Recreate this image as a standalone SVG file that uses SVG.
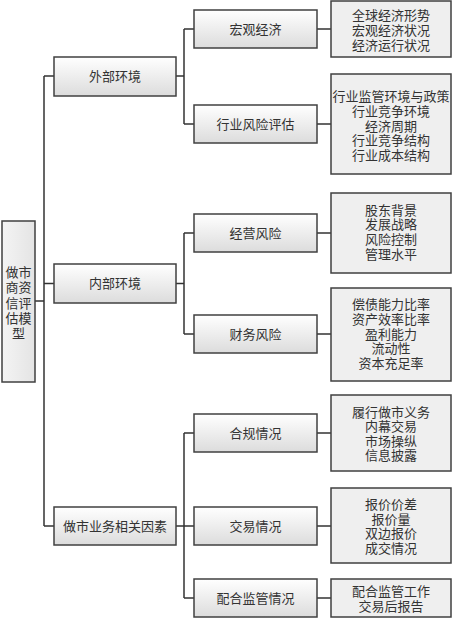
<svg xmlns="http://www.w3.org/2000/svg" width="453" height="618" viewBox="0 0 453 618">
<defs>
<linearGradient id="g" x1="0" y1="0" x2="0" y2="1">
<stop offset="0" stop-color="#ffffff"/>
<stop offset="1" stop-color="#dcdcdc"/>
</linearGradient>
<linearGradient id="gr" x1="0" y1="0" x2="1" y2="0">
<stop offset="0" stop-color="#f4f4f4"/>
<stop offset="1" stop-color="#e4e4e4"/>
</linearGradient>
</defs>
<style>
.b{fill:url(#g);stroke:#404040;stroke-width:1.5}
.r{fill:url(#gr);stroke:#404040;stroke-width:1.5}
.l{fill:#efefef;stroke:#404040;stroke-width:1.5}
text{font-family:"Liberation Serif","Noto Sans CJK SC",sans-serif;font-size:13px;fill:#333;text-anchor:middle;dominant-baseline:central}
.c{fill:none;stroke:#333;stroke-width:1.5}
</style>
<rect width="453" height="618" fill="#fff"/>
<g id="connectors" class="c">
<path d="M35 301H44M44 76V526M44 76H54M44 283.5H54M44 526H54"/>
<path d="M176 76H184M176 283.5H184M176 526H184"/>
<path d="M184 29V124M184 233V334M184 433V598"/>
<path d="M184 29H194M184 124H194M184 233H194M184 334H194M184 433H194M184 526H194M184 598H194"/>
<path d="M317 29H331M317 124H331M317 233H331M317 334H331M317 433H331M317 526H331M317 598H331"/>
</g>
<g id="root"><rect class="r" x="2" y="221" width="33" height="161"/>
<text x="18.5" y="272">做市</text><text x="18.5" y="287.5">商资</text><text x="18.5" y="303">信评</text><text x="18.5" y="318">估模</text><text x="18.5" y="333">型</text></g>
<g id="n-waibu"><rect class="b" x="54" y="57" width="122" height="39"/><text x="115" y="76.5">外部环境</text></g>
<g id="n-neibu"><rect class="b" x="54" y="264" width="122" height="39"/><text x="115" y="283.5">内部环境</text></g>
<g id="n-zuoshi"><rect class="b" x="54" y="507" width="122" height="38"/><text x="115" y="526">做市业务相关因素</text></g>
<g id="n-hongguan"><rect class="b" x="194" y="10" width="123" height="38"/><text x="255.5" y="29">宏观经济</text></g>
<g id="n-hangye"><rect class="b" x="194" y="105" width="123" height="38"/><text x="255.5" y="124">行业风险评估</text></g>
<g id="n-jingying"><rect class="b" x="194" y="214" width="123" height="38"/><text x="255.5" y="233">经营风险</text></g>
<g id="n-caiwu"><rect class="b" x="194" y="315" width="123" height="38"/><text x="255.5" y="334">财务风险</text></g>
<g id="n-hegui"><rect class="b" x="194" y="414" width="123" height="38"/><text x="255.5" y="433">合规情况</text></g>
<g id="n-jiaoyi"><rect class="b" x="194" y="507" width="123" height="38"/><text x="255.5" y="526">交易情况</text></g>
<g id="n-peihe"><rect class="b" x="194" y="579" width="123" height="38"/><text x="255.5" y="598">配合监管情况</text></g>
<g id="d-hongguan"><rect class="l" x="331" y="1" width="120" height="56"/>
<text x="391" y="15">全球经济形势</text><text x="391" y="30">宏观经济状况</text><text x="391" y="45">经济运行状况</text></g>
<g id="d-hangye"><rect class="l" x="331" y="74" width="120" height="100"/>
<text x="391" y="96.8">行业监管环境与政策</text><text x="391" y="111.4">行业竞争环境</text><text x="391" y="126">经济周期</text><text x="391" y="140.6">行业竞争结构</text><text x="391" y="155.2">行业成本结构</text></g>
<g id="d-jingying"><rect class="l" x="331" y="193" width="120" height="80"/>
<text x="391" y="210">股东背景</text><text x="391" y="224.7">发展战略</text><text x="391" y="239.3">风险控制</text><text x="391" y="254">管理水平</text></g>
<g id="d-caiwu"><rect class="l" x="331" y="288" width="120" height="93"/>
<text x="391" y="304.8">偿债能力比率</text><text x="391" y="319.4">资产效率比率</text><text x="391" y="334">盈利能力</text><text x="391" y="348.6">流动性</text><text x="391" y="363.2">资本充足率</text></g>
<g id="d-hegui"><rect class="l" x="331" y="395" width="120" height="76"/>
<text x="391" y="412">履行做市义务</text><text x="391" y="426.6">内幕交易</text><text x="391" y="441.2">市场操纵</text><text x="391" y="455.8">信息披露</text></g>
<g id="d-jiaoyi"><rect class="l" x="331" y="488" width="120" height="75"/>
<text x="391" y="504.6">报价价差</text><text x="391" y="519.2">报价量</text><text x="391" y="533.8">双边报价</text><text x="391" y="548.4">成交情况</text></g>
<g id="d-peihe"><rect class="l" x="331" y="579" width="120" height="38"/>
<text x="391" y="591">配合监管工作</text><text x="391" y="606">交易后报告</text></g>
</svg>
